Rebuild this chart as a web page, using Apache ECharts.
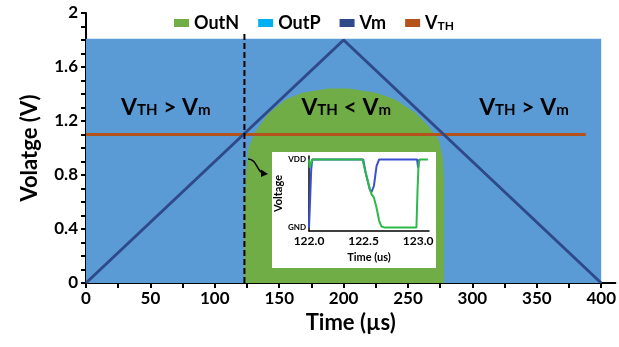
<!DOCTYPE html>
<html>
<head>
<meta charset="utf-8">
<script src="https://cdn.jsdelivr.net/npm/echarts@6/dist/echarts.min.js"></script>
<style>html,body{margin:0;padding:0;background:#fff;}#c{width:619px;height:347px;}</style>
</head>
<body>
<div id="c"></div>
<script>
// ---- Main chart data ----
var outP = [[0, 1.81], [400, 1.81]];
var outN = [[123, 0], [123, 0.5], [124, 0.76], [126, 1.0], [132, 1.13], [142, 1.26], [155, 1.36], [168, 1.41],
            [188, 1.44], [204, 1.44], [225, 1.41], [240, 1.36], [256, 1.26], [266, 1.16], [274, 1.06],
            [277, 0.93], [278, 0.76], [278, 0]];
var vm = [[0, 0], [200, 1.8], [400, 0]];
var vth = [[0, 1.1], [388, 1.1]];
var dashT = [[123, 0], [123, 1.85]];
var xLabels = [0, 50, 100, 150, 200, 250, 300, 350, 400];
var xTicks = [0, 25, 50, 75, 100, 125, 150, 175, 200, 225, 250, 275, 300, 325, 350, 375, 400];
var regionNotes = [
  {t: 62, v: 1.30, rel: '>'},
  {t: 202, v: 1.30, rel: '<'},
  {t: 340, v: 1.30, rel: '>'}
];
// ---- Inset data (normalized GND=0, VDD=1) ----
var insetBlue = [[122.0, 0], [122.01, 0.4], [122.02, 0.85], [122.03, 1.0], [122.497, 1.0], [122.52, 0.8],
                 [122.558, 0.56], [122.573, 0.52], [122.595, 0.61], [122.619, 0.9], [122.643, 1.0],
                 [122.991, 1.0], [123.0, 0.88], [123.012, 1.0]];
var insetGreen = [[122.0, 1.0], [122.006, 0.88], [122.015, 0.9], [122.03, 1.0], [122.49, 1.0], [122.52, 0.8],
                  [122.558, 0.56], [122.573, 0.49], [122.595, 0.44], [122.619, 0.29], [122.643, 0.1],
                  [122.665, 0.015], [122.695, 0], [122.985, 0], [122.995, 0.56], [123.005, 0.95],
                  [123.015, 1.0], [123.09, 1.0]];
var insetXLabels = [122.0, 122.5, 123.0];

var FONT = 'Lato';
var chart = echarts.init(document.getElementById('c'), null, {renderer: 'canvas'});
var noteRich = {
  v: {fontFamily: FONT, fontWeight: 'bold', fontSize: 23, color: '#000', verticalAlign: 'bottom'},
  s: {fontFamily: FONT, fontWeight: 'bold', fontSize: 15, color: '#000', verticalAlign: 'bottom', padding: [0, 0, 1, 0]}
};
var option = {
  animation: false,
  backgroundColor: '#fff',
  legend: {
    left: 169, top: 9, itemWidth: 15, itemHeight: 8, itemGap: 19,
    icon: 'rect',
    textStyle: {fontFamily: FONT, fontWeight: 'bold', fontSize: 18, color: '#000',
      rich: {
        v: {fontFamily: FONT, fontWeight: 'bold', fontSize: 18, color: '#000', verticalAlign: 'bottom'},
        s: {fontFamily: FONT, fontWeight: 'bold', fontSize: 12, color: '#000', verticalAlign: 'bottom'}
      }},
    formatter: function (n) { return n === 'VTH' ? '{v|V}{s|TH}' : n; },
    data: [
      {name: 'OutN', itemStyle: {color: '#70AD47'}},
      {name: 'OutP', itemStyle: {color: '#00B0F0'}},
      {name: 'Vm', itemStyle: {color: '#2F4A8A'}},
      {name: 'VTH', itemStyle: {color: '#B3521A'}}
    ]
  },
  grid: [
    {left: 86, top: 13, width: 530, height: 270},
    {left: 309, top: 156, width: 120, height: 75}
  ],
  xAxis: [
    {gridIndex: 0, type: 'value', min: 0, max: 411, interval: 50,
     name: 'Time (µs)', nameLocation: 'middle', nameGap: 29,
     nameTextStyle: {fontFamily: FONT, fontWeight: 'bold', fontSize: 22, color: '#000'},
     axisLine: {show: true, lineStyle: {color: '#000', width: 2}},
     axisTick: {show: true, inside: false, length: 5, lineStyle: {color: '#000', width: 2}, customValues: xTicks},
     axisLabel: {fontFamily: FONT, fontWeight: 'bold', fontSize: 17, color: '#000', margin: 7, customValues: xLabels},
     splitLine: {show: false}},
    {gridIndex: 1, type: 'value', min: 122, max: 123.1, interval: 0.5, z: 60,
     name: 'Time (us)', nameLocation: 'middle', nameGap: 21,
     nameTextStyle: {fontFamily: FONT, fontWeight: 'bold', fontSize: 11, color: '#000'},
     axisLine: {show: true, onZero: false, lineStyle: {color: '#000', width: 1.5}},
     axisTick: {show: false},
     axisLabel: {fontFamily: FONT, fontWeight: 'bold', fontSize: 12, color: '#000', margin: 4,
       customValues: insetXLabels, formatter: function (v) { return v.toFixed(1); }},
     splitLine: {show: false}}
  ],
  yAxis: [
    {gridIndex: 0, type: 'value', min: 0, max: 2, interval: 0.4,
     name: 'Volatge (V)', nameLocation: 'middle', nameGap: 45,
     nameTextStyle: {fontFamily: FONT, fontWeight: 'bold', fontSize: 22, color: '#000'},
     axisLine: {show: true, lineStyle: {color: '#000', width: 2}},
     axisTick: {show: true, inside: false, length: 5, lineStyle: {color: '#000', width: 2}},
     minorTick: {show: true, splitNumber: 4, length: 5, lineStyle: {color: '#000', width: 2}},
     axisLabel: {fontFamily: FONT, fontWeight: 'bold', fontSize: 17, color: '#000', margin: 8,
       formatter: function (v) { return v === 0 || v === 2 ? String(v) : v.toFixed(1); }},
     splitLine: {show: false}},
    {gridIndex: 1, type: 'value', min: -0.05, max: 1.05, z: 60,
     name: 'Voltage', nameLocation: 'middle', nameGap: 19,
     nameTextStyle: {fontFamily: FONT, fontWeight: 'bold', fontSize: 11, color: '#000'},
     axisLine: {show: true, onZero: false, lineStyle: {color: '#000', width: 1.5}},
     axisTick: {show: false},
     axisLabel: {fontFamily: FONT, fontWeight: 'bold', fontSize: 8, color: '#000', margin: 3,
       customValues: [0, 1], formatter: function (v) { return v > 0.5 ? 'VDD' : 'GND'; }},
     splitLine: {show: false}}
  ],
  graphic: [
    {type: 'rect', z: 50, shape: {x: 272, y: 152, width: 164, height: 116}, style: {fill: '#fff'}},
    {type: 'bezierCurve', z: 50, shape: {x1: 248, y1: 159, cpx1: 257, cpy1: 159, cpx2: 257, cpy2: 172, x2: 263, y2: 173},
     style: {stroke: '#000', lineWidth: 1.5, fill: null}},
    {type: 'polygon', z: 50, shape: {points: [[268, 174], [261, 169.5], [261, 177]]}, style: {fill: '#000'}}
  ],
  series: [
    {name: 'OutP', type: 'line', xAxisIndex: 0, yAxisIndex: 0, data: outP, showSymbol: false, z: 1,
     lineStyle: {width: 0}, itemStyle: {color: '#5B9BD5'}, areaStyle: {color: '#5B9BD5', opacity: 1}},
    {name: 'OutN', type: 'line', xAxisIndex: 0, yAxisIndex: 0, data: outN, showSymbol: false, z: 2,
     lineStyle: {width: 0}, itemStyle: {color: '#70AD47'}, areaStyle: {color: '#70AD47', opacity: 1},
     markPoint: {
       symbol: 'rect', symbolSize: 1, itemStyle: {color: 'rgba(0,0,0,0)'},
       label: {show: true, position: 'inside', rich: noteRich,
         formatter: function (p) { return '{v|V}{s|TH}{v| ' + p.data.rel + ' V}{s|m}'; }},
       data: regionNotes.map(function (d) { return {coord: [d.t, d.v], rel: d.rel}; })
     }},
    {name: 'VTH', type: 'line', xAxisIndex: 0, yAxisIndex: 0, data: vth, showSymbol: false, z: 3,
     lineStyle: {width: 3, color: '#B3521A'}, itemStyle: {color: '#B3521A'}},
    {name: 'Vm', type: 'line', xAxisIndex: 0, yAxisIndex: 0, data: vm, showSymbol: false, z: 4,
     lineStyle: {width: 3, color: '#2F4A8A'}, itemStyle: {color: '#2F4A8A'}},
    {name: 'dash', type: 'line', xAxisIndex: 0, yAxisIndex: 0, data: dashT, showSymbol: false, z: 5,
     lineStyle: {width: 2, color: '#000', type: [6, 3]}},
    {name: 'inB', type: 'line', xAxisIndex: 1, yAxisIndex: 1, data: insetBlue, showSymbol: false, z: 60,
     lineStyle: {width: 2, color: '#3A4FD6'}},
    {name: 'inG', type: 'line', xAxisIndex: 1, yAxisIndex: 1, data: insetGreen, showSymbol: false, z: 61,
     lineStyle: {width: 2, color: '#2DB84A'}}
  ]
};
chart.setOption(option);
</script>
</body>
</html>
